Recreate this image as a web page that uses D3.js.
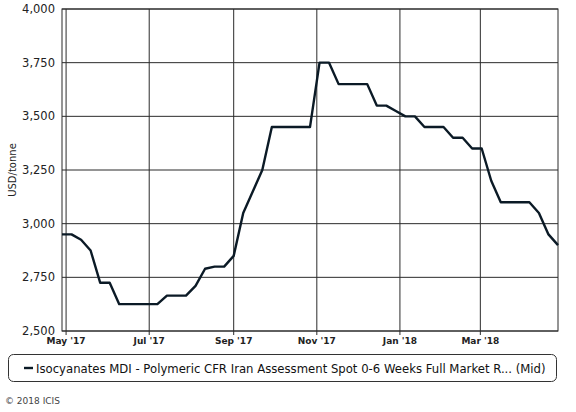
<!DOCTYPE html>
<html>
<head>
<meta charset="utf-8">
<script src="https://cdn.jsdelivr.net/npm/d3@7"></script>
<style>
  body { margin: 0; background: #fff; }
  svg { display: block; font-family: "DejaVu Sans", Verdana, sans-serif; }
</style>
</head>
<body>
<div id="chart"></div>
<script>
var W = 576, H = 412;

// weekly assessments, Fridays from 28 Apr 2017
var startDate = "2017-04-28";
var prices = [2950, 2950, 2925, 2875, 2725, 2725, 2625, 2625, 2625, 2625,
              2625, 2665, 2665, 2665, 2710, 2790, 2800, 2800, 2850, 3050,
              3150, 3250, 3450, 3450, 3450, 3450, 3450, 3750, 3750, 3650,
              3650, 3650, 3650, 3550, 3550, 3525, 3500, 3500, 3450, 3450,
              3450, 3400, 3400, 3350, 3350, 3200, 3100, 3100, 3100, 3100,
              3050, 2950, 2900];
var yTicks = [2500, 2750, 3000, 3250, 3500, 3750, 4000];
var xTicks = ["2017-05-01", "2017-07-01", "2017-09-01", "2017-11-01", "2018-01-01", "2018-03-01"];
var seriesName = "Isocyanates MDI - Polymeric CFR Iran Assessment Spot 0-6 Weeks Full Market R... (Mid)";
var yTitle = "USD/tonne";
var credit = "\u00a9 2018 ICIS";

var parse = d3.timeParse("%Y-%m-%d");
var t0 = parse(startDate);
var data = prices.map(function(v, i) {
    return { date: d3.timeDay.offset(t0, i * 7), value: v };
});

var pLeft = 62, pRight = 558, pTop = 9, pBottom = 331;

var svg = d3.select("#chart")
    .append("svg")
    .attr("width", W)
    .attr("height", H)

var x = d3.scaleTime()
    .domain(d3.extent(data, function(d){ return d.date; }))
    .range([pLeft, pRight]);

var y = d3.scaleLinear()
    .domain([2500, 4000])
    .range([pBottom, pTop]);

// grid
svg.append("g")
    .selectAll("line")
    .data(yTicks)
    .enter()
    .append("line")
    .attr("x1", pLeft)
    .attr("x2", pRight)
    .attr("y1", function(d){ return y(d); })
    .attr("y2", function(d){ return y(d); })
    .style("stroke", "#2b2b2b")
    .style("stroke-width", 1)

svg.append("g")
    .selectAll("line")
    .data(xTicks.map(parse))
    .enter()
    .append("line")
    .attr("x1", function(d){ return x(d); })
    .attr("x2", function(d){ return x(d); })
    .attr("y1", pTop)
    .attr("y2", pBottom + 4)
    .style("stroke", "#2b2b2b")
    .style("stroke-width", 1)

svg.append("rect")
    .attr("x", pLeft)
    .attr("y", pTop)
    .attr("width", pRight - pLeft)
    .attr("height", pBottom - pTop)
    .style("fill", "none")
    .style("stroke", "#2b2b2b")
    .style("stroke-width", 1)

// y labels
svg.append("g")
    .selectAll("text")
    .data(yTicks)
    .enter()
    .append("text")
    .attr("x", 55)
    .attr("y", function(d){ return y(d) + 4; })
    .attr("text-anchor", "end")
    .style("font-size", "11.5px")
    .style("fill", "#222")
    .text(d3.format(","))

// x labels
svg.append("g")
    .selectAll("text")
    .data(xTicks.map(parse))
    .enter()
    .append("text")
    .attr("x", function(d){ return x(d); })
    .attr("y", 344)
    .attr("text-anchor", "middle")
    .style("font-size", "9px")
    .style("font-weight", "bold")
    .style("fill", "#222")
    .text(d3.timeFormat("%b '%y"))

svg.append("text")
    .attr("transform", "translate(16,170) rotate(-90)")
    .attr("text-anchor", "middle")
    .style("font-size", "10px")
    .style("fill", "#222")
    .text(yTitle)

// series
var line = d3.line()
    .x(function(d){ return x(d.date); })
    .y(function(d){ return y(d.value); });

svg.append("path")
    .datum(data)
    .attr("d", line)
    .style("fill", "none")
    .style("stroke", "#0b1a26")
    .style("stroke-width", 2.4)
    .style("stroke-linejoin", "round")

// legend
svg.append("rect")
    .attr("x", 8.5)
    .attr("y", 354.5)
    .attr("width", 548)
    .attr("height", 27)
    .attr("rx", 5)
    .style("fill", "#fff")
    .style("stroke", "#333")
    .style("stroke-width", 1)

svg.append("line")
    .attr("x1", 24)
    .attr("x2", 33)
    .attr("y1", 368)
    .attr("y2", 368)
    .style("stroke", "#0b1a26")
    .style("stroke-width", 2.4)

var legendText = svg.append("text")
    .attr("x", 36)
    .attr("y", 372.5)
    .style("font-size", "13px")
    .style("fill", "#111")
    .text(seriesName)

// shrink font so the label fits the box like the original
var natural = legendText.node().getComputedTextLength();
if (natural > 510) {
    legendText.style("font-size", (13 * 510 / natural).toFixed(2) + "px")
}

svg.append("text")
    .attr("x", 5)
    .attr("y", 404)
    .style("font-size", "9px")
    .style("fill", "#444")
    .text(credit)
</script>
</body>
</html>
